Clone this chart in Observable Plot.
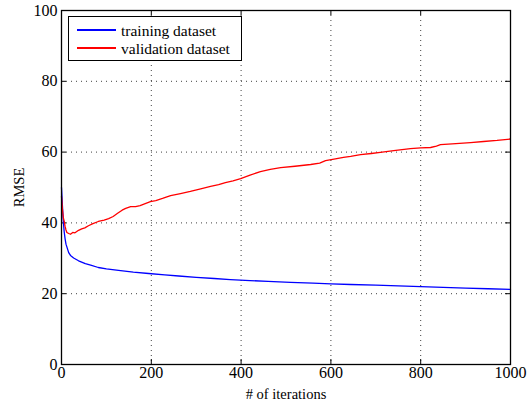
<!DOCTYPE html>
<html>
<head>
<meta charset="utf-8">
<script src="https://cdn.jsdelivr.net/npm/d3@7"></script>
<script src="https://cdn.jsdelivr.net/npm/@observablehq/plot@0.6"></script>
<style>
  body { margin: 0; background: #fff; }
  #wrap { position: relative; width: 532px; height: 408px; }
  #legend { position: absolute; left: 68px; top: 16px; width: 174px; height: 45px; box-sizing: border-box;
    border: 1px solid #000; background: #fff; font-family: "Liberation Serif", "Times New Roman", serif; font-size: 15.5px; padding-top: 4px; z-index: 2; }
  .item { display: flex; align-items: center; height: 18px; white-space: nowrap; }
  .item span { line-height: 15px; }
  .swatch { flex: none; width: 39px; height: 1.5px; margin-left: 8px; margin-right: 5px; }
</style>
</head>
<body>
<div id="wrap"><div id="legend"></div></div>
<script>
const seriesNames = ["training dataset", "validation dataset"];
const seriesColors = ["#0000ff", "#ff0000"];

const trainIter = [0,2,4,6,8,10,13,16,20,27,38,53,65,82,100,127,160,194,230,261,300,340,376,420,460,510,560,600,644,700,750,800,850,900,950,1000];
const trainRMSE = [50,45,40.5,37.5,35.5,34,32.8,31.6,30.8,30.1,29.3,28.5,28.1,27.4,27,26.6,26.1,25.7,25.3,25.0,24.6,24.3,24.0,23.7,23.5,23.2,23.0,22.8,22.6,22.4,22.2,22.0,21.8,21.6,21.4,21.2];

const validIter = [0,2,4,6,8,10,12,16,20,25,30,38,45,52,60,70,82,95,105,115,125,135,143,154,165,175,185,198,210,225,243,265,287,310,332,350,365,382,399,420,443,465,488,520,555,575,588,610,628,644,666,690,710,740,777,800,822,835,844,870,911,940,970,1000];
const validRMSE = [47.5,44,41.5,40.5,39,38,37.3,37.0,36.8,37.3,37.2,37.9,38.3,38.6,39.2,39.8,40.4,40.8,41.2,41.8,42.7,43.6,44.1,44.6,44.6,44.9,45.4,46,46.3,46.9,47.7,48.3,48.9,49.6,50.3,50.8,51.4,51.9,52.5,53.5,54.5,55.1,55.6,56.0,56.5,56.9,57.6,58.1,58.5,58.8,59.3,59.6,59.9,60.4,61,61.2,61.3,61.7,62.1,62.3,62.7,63.0,63.3,63.7];

const xTicks = [0,200,400,600,800,1000];
const yTicks = [0,20,40,60,80,100];

const train = trainIter.map((x, i) => ({x, y: trainRMSE[i]}));
const valid = validIter.map((x, i) => ({x, y: validRMSE[i]}));

const W = 532, H = 408, mL = 61, mR = 22, mT = 10, mB = 44;
const innerW = W - mL - mR, innerH = H - mT - mB;
const tl = 5;
const serif = "'Liberation Serif', 'Times New Roman', serif";

const chart = Plot.plot({
  width: W, height: H,
  marginLeft: mL, marginRight: mR, marginTop: mT, marginBottom: mB,
  style: { fontFamily: serif, fontSize: "16px", color: "#000", background: "#fff" },
  x: { domain: [0, 1000] },
  y: { domain: [0, 100] },
  marks: [
    Plot.gridX(xTicks.slice(1, -1), { stroke: "#000", strokeOpacity: 0.75, strokeDasharray: "1,4" }),
    Plot.gridY(yTicks.slice(1, -1), { stroke: "#000", strokeOpacity: 0.75, strokeDasharray: "1,4" }),
    Plot.tickX(xTicks, { x: d => d, stroke: "#000", insetTop: innerH - tl }),
    Plot.tickX(xTicks, { x: d => d, stroke: "#000", insetBottom: innerH - tl }),
    Plot.tickY(yTicks, { y: d => d, stroke: "#000", insetLeft: innerW - tl }),
    Plot.tickY(yTicks, { y: d => d, stroke: "#000", insetRight: innerW - tl }),
    Plot.axisX(xTicks, { tickSize: 0, tickPadding: 2, tickFormat: d => String(d), label: "# of iterations", labelAnchor: "center", labelArrow: "none", labelOffset: 34, fontSize: 16 }),
    Plot.axisY(yTicks, { tickSize: 0, tickPadding: 4, tickFormat: d => String(d), label: "RMSE", labelAnchor: "center", labelArrow: "none", labelOffset: 48, fontSize: 16 }),
    Plot.line(train, { x: "x", y: "y", stroke: seriesColors[0], strokeWidth: 1.3 }),
    Plot.line(valid, { x: "x", y: "y", stroke: seriesColors[1], strokeWidth: 1.3 }),
    Plot.frame({ stroke: "#000", strokeWidth: 1.3 })
  ]
});
chart.querySelectorAll("text").forEach(t => t.setAttribute("font-family", serif));
chart.querySelectorAll("[aria-label$='axis label'] text").forEach(t => t.setAttribute("font-size", "14.5"));
document.getElementById("wrap").prepend(chart);
chart.style.position = "absolute"; chart.style.left = "0"; chart.style.top = "0";

const legend = document.getElementById("legend");
seriesNames.forEach((name, i) => {
  const item = document.createElement("div");
  item.className = "item";
  const sw = document.createElement("div");
  sw.className = "swatch";
  sw.style.background = seriesColors[i];
  const lab = document.createElement("span");
  lab.textContent = name;
  item.append(sw, lab);
  legend.append(item);
});
</script>
</body>
</html>
